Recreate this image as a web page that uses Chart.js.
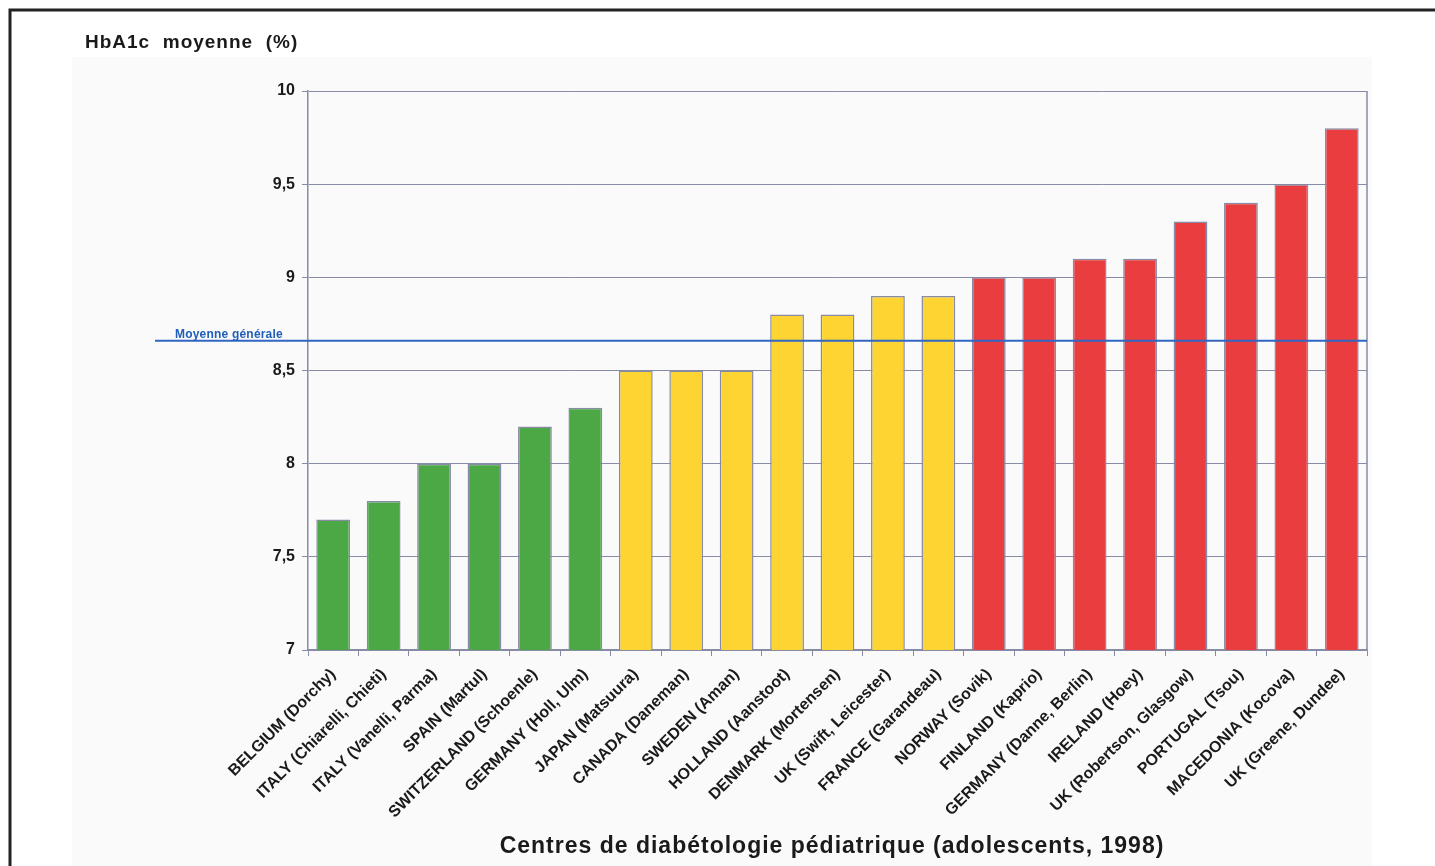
<!DOCTYPE html>
<html>
<head>
<meta charset="utf-8">
<script src="https://cdn.jsdelivr.net/npm/chart.js@4/dist/chart.umd.min.js"></script>
<style>
  html, body { margin:0; padding:0; background:#fff; }
  #wrap { width:1435px; height:866px; position:relative; }
</style>
</head>
<body>
<div id="wrap"><canvas id="chart"></canvas></div>
<script>
let centres = ["BELGIUM (Dorchy)","ITALY (Chiarelli, Chieti)","ITALY (Vanelli, Parma)","SPAIN (Martul)",
  "SWITZERLAND (Schoenle)","GERMANY (Holl, Ulm)","JAPAN (Matsuura)","CANADA (Daneman)","SWEDEN (Aman)",
  "HOLLAND (Aanstoot)","DENMARK (Mortensen)","UK (Swift, Leicester)","FRANCE (Garandeau)","NORWAY (Sovik)",
  "FINLAND (Kaprio)","GERMANY (Danne, Berlin)","IRELAND (Hoey)","UK (Robertson, Glasgow)","PORTUGAL (Tsou)",
  "MACEDONIA (Kocova)","UK (Greene, Dundee)"];
let hba1c = [7.7,7.8,8.0,8.0,8.2,8.3,8.5,8.5,8.5,8.8,8.8,8.9,8.9,9.0,9.0,9.1,9.1,9.3,9.4,9.5,9.8];
let groupe = ["v","v","v","v","v","v","j","j","j","j","j","j","j","r","r","r","r","r","r","r","r"];
let moyenne = 8.66;
let yTicks = [7,7.5,8,8.5,9,9.5,10];

let couleurs = {v:"#4ba845", j:"#fdd432", r:"#ea3d3f"};
let gris = "#878ba6";

let decor = {
  id:"decor",
  beforeDraw(c){
    let ctx = c.ctx;
    ctx.save();
    ctx.fillStyle = "#fff";
    ctx.fillRect(0,0,c.width,c.height);
    ctx.fillStyle = "#fafafb";
    ctx.fillRect(72,57,1300,809);
    ctx.strokeStyle = "#222";
    ctx.lineWidth = 3;
    ctx.beginPath();
    ctx.moveTo(10,866); ctx.lineTo(10,10); ctx.lineTo(1435,10);
    ctx.stroke();
    ctx.restore();
  },
  afterDatasetsDraw(c){
    let ctx = c.ctx, a = c.chartArea;
    let y = c.scales.y.getPixelForValue(moyenne);
    ctx.save();
    // bord droit
    ctx.strokeStyle = gris; ctx.lineWidth = 1.5;
    ctx.beginPath(); ctx.moveTo(a.right,a.top); ctx.lineTo(a.right,a.bottom); ctx.stroke();
    // moyenne
    ctx.strokeStyle = "#3166c2"; ctx.lineWidth = 2;
    ctx.beginPath(); ctx.moveTo(155,y); ctx.lineTo(a.right,y); ctx.stroke();
    ctx.fillStyle = "#1f5fb8";
    ctx.font = "bold 12px 'Liberation Sans', Arial";
    ctx.letterSpacing = "0.2px";
    ctx.textBaseline = "alphabetic";
    ctx.fillText("Moyenne générale",175,y-3);
    // titres
    ctx.fillStyle = "#1a1a1a";
    ctx.font = "bold 19px 'Liberation Sans', Arial";
    ctx.letterSpacing = "1px";
    ctx.fillText("HbA1c  moyenne  (%)",85,48);
    ctx.font = "bold 23px 'Liberation Sans', Arial";
    ctx.textAlign = "center";
    ctx.fillText("Centres de diabétologie pédiatrique (adolescents, 1998)",832,853);
    ctx.restore();
  }
};

new Chart(document.getElementById("chart"),{
  type:"bar",
  data:{labels:centres,datasets:[{
    data:hba1c,
    backgroundColor:groupe.map(g=>couleurs[g]),
    borderColor:gris,
    borderWidth:1.5,
    barPercentage:0.67,
    categoryPercentage:1
  }]},
  options:{
    responsive:true,
    maintainAspectRatio:false,
    animation:false,
    layout:{padding:{top:91,right:68,left:0,bottom:0}},
    plugins:{legend:{display:false},tooltip:{enabled:false}},
    scales:{
      x:{
        afterFit(s){ s.height = 216; },
        grid:{drawOnChartArea:false,drawTicks:true,tickLength:6,color:gris,offset:true},
        border:{color:gris,width:1.5},
        ticks:{maxRotation:45,minRotation:45,autoSkip:false,color:"#1a1a1a",
          font:{family:"'Liberation Sans', Arial",size:16,weight:"bold"},padding:9}
      },
      y:{
        min:7,max:10,
        afterFit(s){ s.width = 308; },
        afterBuildTicks(s){ s.ticks = yTicks.map(v=>({value:v})); },
        grid:{color:gris,lineWidth:1,tickLength:6},
        border:{color:gris,width:1.5},
        ticks:{color:"#1a1a1a",padding:7,
          font:{family:"'Liberation Sans', Arial",size:16,weight:"bold"},
          callback:v=>String(v).replace(".",",")}
      }
    }
  },
  plugins:[decor]
});
</script>
</body>
</html>
